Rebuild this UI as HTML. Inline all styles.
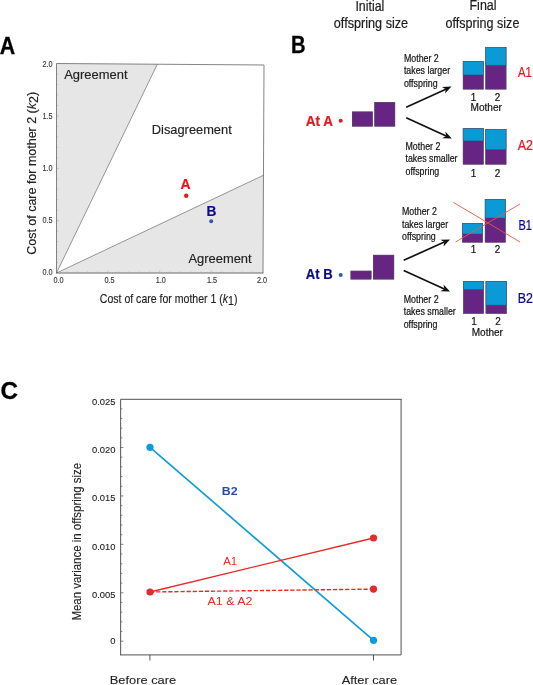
<!DOCTYPE html>
<html lang="en">
<head>
<meta charset="utf-8">
<title>Figure</title>
<style>
html,body{margin:0;padding:0;background:#fff;}
body{width:533px;height:685px;overflow:hidden;}
svg{display:block;}
text{font-family:"Liberation Sans",Arial,Helvetica,sans-serif;}
</style>
</head>
<body>
<svg width="533" height="685" viewBox="0 0 533 685">
<rect x="0" y="0" width="533" height="685" fill="#ffffff"/>

<g id="panelA">
<text transform="translate(-0.20,53.50) scale(0.8885,1)" font-size="24" fill="#000" font-weight="bold" stroke="#000" stroke-width="0.3">A</text>
<polygon points="56.5,273 56.5,63.5 157.3,64.2" fill="#e6e6e6"/>
<polygon points="56.5,273 263.6,175.2 263,273" fill="#e6e6e6"/>
<line x1="56.5" y1="273" x2="157.3" y2="64.2" stroke="#7d7d7d" stroke-width="0.8"/>
<line x1="56.5" y1="273" x2="263.6" y2="175.2" stroke="#7d7d7d" stroke-width="0.8"/>
<polyline points="56.5,273 56.5,63.5 264,65 263,273" fill="none" stroke="#6e6e6e" stroke-width="0.85"/>
<line x1="56" y1="273" x2="263.4" y2="273" stroke="#6a6a6a" stroke-width="1"/>
<path d="M66.83 272.6v-1.2M56.9 262.53h1.2M77.15 272.6v-1.2M56.9 252.06h1.2M87.47 272.6v-1.2M56.9 241.59h1.2M97.80 272.6v-1.2M56.9 231.12h1.2M108.12 272.6v-2.0M56.9 220.65h2.0M118.45 272.6v-1.2M56.9 210.18h1.2M128.78 272.6v-1.2M56.9 199.71h1.2M139.10 272.6v-1.2M56.9 189.24h1.2M149.43 272.6v-1.2M56.9 178.77h1.2M159.75 272.6v-2.0M56.9 168.30h2.0M170.07 272.6v-1.2M56.9 157.83h1.2M180.40 272.6v-1.2M56.9 147.36h1.2M190.72 272.6v-1.2M56.9 136.89h1.2M201.05 272.6v-1.2M56.9 126.42h1.2M211.38 272.6v-2.0M56.9 115.95h2.0M221.70 272.6v-1.2M56.9 105.48h1.2M232.03 272.6v-1.2M56.9 95.01h1.2M242.35 272.6v-1.2M56.9 84.54h1.2M252.68 272.6v-1.2M56.9 74.07h1.2" stroke="#9a9a9a" stroke-width="0.45" fill="none"/>
<text transform="translate(52.60,67.10) scale(0.8800,1)" font-size="8.3" fill="#3a3a3a" text-anchor="end" stroke="#3a3a3a" stroke-width="0.15">2.0</text>
<text transform="translate(52.60,119.00) scale(0.8800,1)" font-size="8.3" fill="#3a3a3a" text-anchor="end" stroke="#3a3a3a" stroke-width="0.15">1.5</text>
<text transform="translate(52.60,171.10) scale(0.8800,1)" font-size="8.3" fill="#3a3a3a" text-anchor="end" stroke="#3a3a3a" stroke-width="0.15">1.0</text>
<text transform="translate(52.60,222.70) scale(0.8800,1)" font-size="8.3" fill="#3a3a3a" text-anchor="end" stroke="#3a3a3a" stroke-width="0.15">0.5</text>
<text transform="translate(52.60,274.70) scale(0.8800,1)" font-size="8.3" fill="#3a3a3a" text-anchor="end" stroke="#3a3a3a" stroke-width="0.15">0.0</text>
<text transform="translate(58.60,282.80) scale(0.8800,1)" font-size="8.3" fill="#3a3a3a" text-anchor="middle" stroke="#3a3a3a" stroke-width="0.15">0.0</text>
<text transform="translate(109.60,282.80) scale(0.8800,1)" font-size="8.3" fill="#3a3a3a" text-anchor="middle" stroke="#3a3a3a" stroke-width="0.15">0.5</text>
<text transform="translate(160.80,282.80) scale(0.8800,1)" font-size="8.3" fill="#3a3a3a" text-anchor="middle" stroke="#3a3a3a" stroke-width="0.15">1.0</text>
<text transform="translate(212.00,282.80) scale(0.8800,1)" font-size="8.3" fill="#3a3a3a" text-anchor="middle" stroke="#3a3a3a" stroke-width="0.15">1.5</text>
<text transform="translate(262.00,282.80) scale(0.8800,1)" font-size="8.3" fill="#3a3a3a" text-anchor="middle" stroke="#3a3a3a" stroke-width="0.15">2.0</text>
<text transform="translate(64.20,78.80) scale(1.0125,1)" font-size="12.8" fill="#222" stroke="#222" stroke-width="0.15">Agreement</text>
<text transform="translate(151.80,134.10) scale(1.0040,1)" font-size="12.8" fill="#222" stroke="#222" stroke-width="0.15">Disagreement</text>
<text transform="translate(188.50,263.20) scale(1.0093,1)" font-size="12.8" fill="#222" stroke="#222" stroke-width="0.15">Agreement</text>
<text transform="translate(180.50,189.00) scale(0.9262,1)" font-size="15.1" fill="#e3171f" font-weight="bold" stroke="#e3171f" stroke-width="0.2">A</text>
<circle cx="186.2" cy="195.8" r="2.2" fill="#e3171f"/>
<text transform="translate(206.50,216.00) scale(0.9078,1)" font-size="15.1" fill="#0a0a8c" font-weight="bold" stroke="#0a0a8c" stroke-width="0.2">B</text>
<circle cx="211.2" cy="221.2" r="2" fill="#3558a8"/>
<text transform="translate(99.80,302.80) scale(0.8237,1)" font-size="12.8" fill="#222" stroke="#222" stroke-width="0.15">Cost of care for mother 1 (<tspan font-style="italic">k</tspan><tspan dy="2">1</tspan><tspan dy="-2">)</tspan></text>
<text transform="translate(36.10,254.80) rotate(-90) scale(1.0400,1)" font-size="12.0" fill="#222" stroke="#222" stroke-width="0.15">Cost of care for mother 2 (<tspan font-style="italic">k</tspan><tspan dy="2">2</tspan><tspan dy="-2">)</tspan></text>
</g>
<g id="panelB">
<text transform="translate(291.00,53.30) scale(0.8354,1)" font-size="24.2" fill="#000" font-weight="bold" stroke="#000" stroke-width="0.3">B</text>
<text transform="translate(355.40,10.80) scale(0.8873,1)" font-size="14" fill="#1c1c1c" stroke="#1c1c1c" stroke-width="0.2">Initial</text>
<text transform="translate(333.80,27.80) scale(0.9048,1)" font-size="14" fill="#1c1c1c" stroke="#1c1c1c" stroke-width="0.2">offspring size</text>
<text transform="translate(469.50,10.30) scale(0.8897,1)" font-size="14" fill="#1c1c1c" stroke="#1c1c1c" stroke-width="0.2">Final</text>
<text transform="translate(445.60,27.70) scale(0.8975,1)" font-size="14" fill="#1c1c1c" stroke="#1c1c1c" stroke-width="0.2">offspring size</text>
<text transform="translate(305.70,126.30) scale(0.8759,1)" font-size="15.5" fill="#e3171f" font-weight="bold" stroke="#e3171f" stroke-width="0.2">At A</text>
<circle cx="340.7" cy="120.7" r="2" fill="#e3171f"/>
<rect x="352.0" y="111.6" width="20.80" height="14.90" fill="#662483"/>
<rect x="352.30" y="111.90" width="20.20" height="14.30" fill="none" stroke="#55505a" stroke-width="0.6"/>
<rect x="374.4" y="102.1" width="20.70" height="24.40" fill="#662483"/>
<rect x="374.70" y="102.40" width="20.10" height="23.80" fill="none" stroke="#55505a" stroke-width="0.6"/>
<line x1="406.20" y1="107.30" x2="445.86" y2="89.18" stroke="#111" stroke-width="1.7"/>
<polygon points="451.50,86.60 445.03,93.62 445.86,89.18 441.96,86.89" fill="#111"/>
<line x1="406.20" y1="117.80" x2="446.16" y2="136.03" stroke="#111" stroke-width="1.7"/>
<polygon points="451.80,138.60 442.26,138.31 446.16,136.03 445.33,131.58" fill="#111"/>
<text transform="translate(403.90,62.10) scale(0.8760,1)" font-size="10.1" fill="#111" stroke="#111" stroke-width="0.2">Mother 2</text>
<text transform="translate(403.90,74.30) scale(0.8760,1)" font-size="10.1" fill="#111" stroke="#111" stroke-width="0.2">takes larger</text>
<text transform="translate(403.90,86.80) scale(0.8760,1)" font-size="10.1" fill="#111" stroke="#111" stroke-width="0.2">offspring</text>
<text transform="translate(405.50,150.00) scale(0.8760,1)" font-size="10.1" fill="#111" stroke="#111" stroke-width="0.2">Mother 2</text>
<text transform="translate(405.50,162.30) scale(0.8760,1)" font-size="10.1" fill="#111" stroke="#111" stroke-width="0.2">takes smaller</text>
<text transform="translate(405.50,174.60) scale(0.8760,1)" font-size="10.1" fill="#111" stroke="#111" stroke-width="0.2">offspring</text>
<text transform="translate(402.00,215.00) scale(0.8760,1)" font-size="10.1" fill="#111" stroke="#111" stroke-width="0.2">Mother 2</text>
<text transform="translate(402.00,227.50) scale(0.8760,1)" font-size="10.1" fill="#111" stroke="#111" stroke-width="0.2">takes larger</text>
<text transform="translate(402.00,240.00) scale(0.8760,1)" font-size="10.1" fill="#111" stroke="#111" stroke-width="0.2">offspring</text>
<text transform="translate(403.70,302.50) scale(0.8760,1)" font-size="10.1" fill="#111" stroke="#111" stroke-width="0.2">Mother 2</text>
<text transform="translate(403.70,315.00) scale(0.8760,1)" font-size="10.1" fill="#111" stroke="#111" stroke-width="0.2">takes smaller</text>
<text transform="translate(403.70,327.50) scale(0.8760,1)" font-size="10.1" fill="#111" stroke="#111" stroke-width="0.2">offspring</text>
<rect x="462.9" y="61.3" width="20.70" height="28.10" fill="#662483"/>
<rect x="462.9" y="61.3" width="20.70" height="13.60" fill="#0a9bd7"/>
<line x1="462.9" y1="74.9" x2="483.6" y2="74.9" stroke="#3f4a6a" stroke-width="0.45"/>
<rect x="463.20" y="61.60" width="20.10" height="27.50" fill="none" stroke="#55505a" stroke-width="0.6"/>
<rect x="485.4" y="47" width="20.90" height="42.40" fill="#662483"/>
<rect x="485.4" y="47" width="20.90" height="18.30" fill="#0a9bd7"/>
<line x1="485.4" y1="65.3" x2="506.3" y2="65.3" stroke="#3f4a6a" stroke-width="0.45"/>
<rect x="485.70" y="47.30" width="20.30" height="41.80" fill="none" stroke="#55505a" stroke-width="0.6"/>
<text transform="translate(473.60,100.70) scale(0.9200,1)" font-size="10.8" fill="#111" text-anchor="middle" stroke="#111" stroke-width="0.2">1</text>
<text transform="translate(497.60,100.70) scale(0.9200,1)" font-size="10.8" fill="#111" text-anchor="middle" stroke="#111" stroke-width="0.2">2</text>
<text transform="translate(470.50,110.50) scale(0.9371,1)" font-size="10.8" fill="#111" stroke="#111" stroke-width="0.2">Mother</text>
<text transform="translate(518.00,77.20) scale(0.7521,1)" font-size="15" fill="#e3171f" stroke="#e3171f" stroke-width="0.25">A1</text>
<rect x="462.9" y="128.2" width="20.70" height="36.30" fill="#662483"/>
<rect x="462.9" y="128.2" width="20.70" height="12.70" fill="#0a9bd7"/>
<line x1="462.9" y1="140.9" x2="483.6" y2="140.9" stroke="#3f4a6a" stroke-width="0.45"/>
<rect x="463.20" y="128.50" width="20.10" height="35.70" fill="none" stroke="#55505a" stroke-width="0.6"/>
<rect x="485.4" y="129" width="20.90" height="35.50" fill="#662483"/>
<rect x="485.4" y="129" width="20.90" height="20.70" fill="#0a9bd7"/>
<line x1="485.4" y1="149.7" x2="506.3" y2="149.7" stroke="#3f4a6a" stroke-width="0.45"/>
<rect x="485.70" y="129.30" width="20.30" height="34.90" fill="none" stroke="#55505a" stroke-width="0.6"/>
<text transform="translate(473.60,176.80) scale(0.9200,1)" font-size="10.8" fill="#111" text-anchor="middle" stroke="#111" stroke-width="0.2">1</text>
<text transform="translate(497.60,176.80) scale(0.9200,1)" font-size="10.8" fill="#111" text-anchor="middle" stroke="#111" stroke-width="0.2">2</text>
<text transform="translate(517.80,149.80) scale(0.8122,1)" font-size="15.3" fill="#e3171f" stroke="#e3171f" stroke-width="0.25">A2</text>
<text transform="translate(305.70,279.30) scale(0.8444,1)" font-size="15.5" fill="#0a0a8c" font-weight="bold" stroke="#0a0a8c" stroke-width="0.2">At B</text>
<circle cx="340.7" cy="275" r="2" fill="#3558a8"/>
<rect x="350.6" y="270.8" width="20.80" height="8.60" fill="#662483"/>
<rect x="350.90" y="271.10" width="20.20" height="8.00" fill="none" stroke="#55505a" stroke-width="0.6"/>
<rect x="373" y="254.9" width="21.10" height="24.50" fill="#662483"/>
<rect x="373.30" y="255.20" width="20.50" height="23.90" fill="none" stroke="#55505a" stroke-width="0.6"/>
<line x1="403.70" y1="260.30" x2="444.34" y2="242.04" stroke="#111" stroke-width="1.7"/>
<polygon points="450.00,239.50 443.49,246.48 444.34,242.04 440.46,239.73" fill="#111"/>
<line x1="403.70" y1="270.50" x2="444.35" y2="288.94" stroke="#111" stroke-width="1.7"/>
<polygon points="450.00,291.50 440.46,291.23 444.35,288.94 443.51,284.50" fill="#111"/>
<rect x="462.2" y="223.2" width="20.60" height="19.30" fill="#662483"/>
<rect x="462.2" y="223.2" width="20.60" height="10.80" fill="#0a9bd7"/>
<line x1="462.2" y1="234" x2="482.8" y2="234" stroke="#3f4a6a" stroke-width="0.45"/>
<rect x="462.50" y="223.50" width="20.00" height="18.70" fill="none" stroke="#55505a" stroke-width="0.6"/>
<rect x="484.9" y="199.2" width="20.70" height="43.30" fill="#662483"/>
<rect x="484.9" y="199.2" width="20.70" height="18.80" fill="#0a9bd7"/>
<line x1="484.9" y1="218" x2="505.6" y2="218" stroke="#3f4a6a" stroke-width="0.45"/>
<rect x="485.20" y="199.50" width="20.10" height="42.70" fill="none" stroke="#55505a" stroke-width="0.6"/>
<line x1="453.6" y1="202.5" x2="520" y2="242" stroke="#e25a45" stroke-width="0.9"/>
<line x1="455.5" y1="242" x2="520" y2="204" stroke="#e25a45" stroke-width="0.9"/>
<text transform="translate(473.40,253.00) scale(0.9200,1)" font-size="10.8" fill="#111" text-anchor="middle" stroke="#111" stroke-width="0.2">1</text>
<text transform="translate(497.50,253.00) scale(0.9200,1)" font-size="10.8" fill="#111" text-anchor="middle" stroke="#111" stroke-width="0.2">2</text>
<text transform="translate(518.40,230.00) scale(0.7303,1)" font-size="15" fill="#0a0a8c" stroke="#0a0a8c" stroke-width="0.25">B1</text>
<rect x="463.2" y="281.2" width="20.60" height="32.50" fill="#662483"/>
<rect x="463.2" y="281.2" width="20.60" height="8.30" fill="#0a9bd7"/>
<line x1="463.2" y1="289.5" x2="483.8" y2="289.5" stroke="#3f4a6a" stroke-width="0.45"/>
<rect x="463.50" y="281.50" width="20.00" height="31.90" fill="none" stroke="#55505a" stroke-width="0.6"/>
<rect x="485.7" y="281.2" width="21.00" height="32.50" fill="#662483"/>
<rect x="485.7" y="281.2" width="21.00" height="24.00" fill="#0a9bd7"/>
<line x1="485.7" y1="305.2" x2="506.7" y2="305.2" stroke="#3f4a6a" stroke-width="0.45"/>
<rect x="486.00" y="281.50" width="20.40" height="31.90" fill="none" stroke="#55505a" stroke-width="0.6"/>
<text transform="translate(474.00,324.80) scale(0.9200,1)" font-size="10.8" fill="#111" text-anchor="middle" stroke="#111" stroke-width="0.2">1</text>
<text transform="translate(498.00,324.80) scale(0.9200,1)" font-size="10.8" fill="#111" text-anchor="middle" stroke="#111" stroke-width="0.2">2</text>
<text transform="translate(471.70,335.80) scale(0.9312,1)" font-size="10.8" fill="#111" stroke="#111" stroke-width="0.2">Mother</text>
<text transform="translate(517.80,302.60) scale(0.8122,1)" font-size="15.3" fill="#0a0a8c" stroke="#0a0a8c" stroke-width="0.25">B2</text>
</g>
<g id="panelC">
<text transform="translate(0.40,399.00) scale(0.9850,1)" font-size="24.6" fill="#000" font-weight="bold" stroke="#000" stroke-width="0.3">C</text>
<path d="M401.1 399.3V654.9H120.65" fill="none" stroke="#505050" stroke-width="1"/>
<path d="M120.65 655.4V399.3H401.6" fill="none" stroke="#3e3e3e" stroke-width="0.9"/>
<path d="M120.8 641.20h2.6M120.8 631.52h1.5M120.8 621.83h1.5M120.8 612.15h1.5M120.8 602.46h1.5M120.8 592.78h2.6M120.8 583.10h1.5M120.8 573.41h1.5M120.8 563.73h1.5M120.8 554.04h1.5M120.8 544.36h2.6M120.8 534.68h1.5M120.8 524.99h1.5M120.8 515.31h1.5M120.8 505.62h1.5M120.8 495.94h2.6M120.8 486.26h1.5M120.8 476.57h1.5M120.8 466.89h1.5M120.8 457.20h1.5M120.8 447.52h2.6M120.8 437.84h1.5M120.8 428.15h1.5M120.8 418.47h1.5M120.8 408.78h1.5" stroke="#505050" stroke-width="0.7" fill="none"/>
<path d="M149.9 654.9v5.6M373.5 654.9v5.6" stroke="#444" stroke-width="0.9" fill="none"/>
<text transform="translate(115.40,644.15) scale(1.0000,1)" font-size="9.4" fill="#222" text-anchor="end" stroke="#222" stroke-width="0.1">0</text>
<text transform="translate(115.40,597.65) scale(1.0000,1)" font-size="9.4" fill="#222" text-anchor="end" stroke="#222" stroke-width="0.1">0.005</text>
<text transform="translate(115.40,550.35) scale(1.0000,1)" font-size="9.4" fill="#222" text-anchor="end" stroke="#222" stroke-width="0.1">0.010</text>
<text transform="translate(115.40,501.05) scale(1.0000,1)" font-size="9.4" fill="#222" text-anchor="end" stroke="#222" stroke-width="0.1">0.015</text>
<text transform="translate(115.40,452.65) scale(1.0000,1)" font-size="9.4" fill="#222" text-anchor="end" stroke="#222" stroke-width="0.1">0.020</text>
<text transform="translate(115.40,405.45) scale(1.0000,1)" font-size="9.4" fill="#222" text-anchor="end" stroke="#222" stroke-width="0.1">0.025</text>
<text transform="translate(81.10,620.60) rotate(-90) scale(0.9395,1)" font-size="12.2" fill="#222" stroke="#222" stroke-width="0.1">Mean variance in offspring size</text>
<text transform="translate(109.80,684.00) scale(1.1267,1)" font-size="11.4" fill="#222" stroke="#222" stroke-width="0.1">Before care</text>
<text transform="translate(341.70,684.00) scale(1.1210,1)" font-size="11.4" fill="#222" stroke="#222" stroke-width="0.1">After care</text>
<line x1="150" y1="447.3" x2="373.5" y2="640.3" stroke="#0c9cd8" stroke-width="1.65"/>
<line x1="150" y1="592" x2="373.5" y2="538" stroke="#e42a2a" stroke-width="1.4"/>
<line x1="150" y1="592" x2="373.5" y2="589.1" stroke="#e42a2a" stroke-width="1.4" stroke-dasharray="4.2,1.9"/>
<circle cx="150" cy="447.3" r="3.6" fill="#0c9cd8"/>
<circle cx="373.5" cy="640.3" r="3.6" fill="#0c9cd8"/>
<circle cx="150" cy="592" r="3.6" fill="#e42a2a"/>
<circle cx="373.5" cy="538" r="3.6" fill="#e42a2a"/>
<circle cx="373.5" cy="589.1" r="3.6" fill="#e42a2a"/>
<text transform="translate(221.80,495.00) scale(1.1884,1)" font-size="10.4" fill="#2b4a9c" font-weight="bold">B2</text>
<text transform="translate(223.20,565.00) scale(1.1005,1)" font-size="10.4" fill="#e42a2a">A1</text>
<text transform="translate(207.50,604.80) scale(1.1859,1)" font-size="10.5" fill="#e42a2a">A1 &amp; A2</text>
</g>
</svg>
</body>
</html>
